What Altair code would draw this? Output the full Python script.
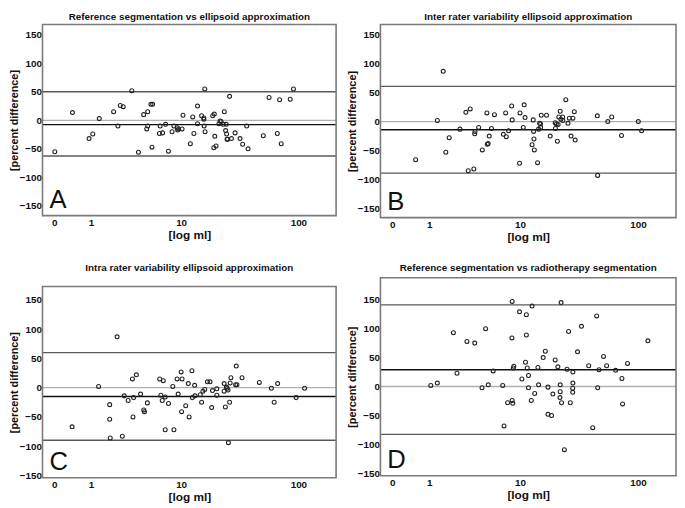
import altair as alt
import pandas as pd

FONT = "Liberation Sans"

titles = [
    "Reference segmentation vs ellipsoid approximation",
    "Inter rater variability ellipsoid  approximation",
    "Intra rater variability ellipsoid  approximation",
    "Reference segmentation vs radiotherapy  segmentation",
]
letters = ["A", "B", "C", "D"]
x_ticks = [0, 1, 10, 100]
y_ticks = [-150, -100, -50, 0, 50, 100, 150]

# Panel A
a_x = [0.01, 0.41, 0.93, 1.07, 1.34, 2.07, 2.33, 2.48, 2.68, 3.33, 3.91, 4.42, 4.74, 4.85, 4.85,
       5.22, 5.42, 5.34, 6.4, 6.3, 6.74, 7.2, 7.65, 8.27, 8.6, 9.2, 9.3, 10.4, 10.2, 12.1,
       12.7, 13.0, 14.0, 14.0, 15.2, 15.9, 15.9, 16.2, 16.0, 16.3, 19.0, 19.6, 19.4, 19.8, 20.3,
       21.5, 22.0, 22.4, 23.4, 23.9, 24.5, 24.8, 25.0, 25.2, 25.5, 26.5, 27.5, 29.5, 32.5, 34.2,
       37.0, 38.0, 51.0, 57.0, 66.8, 69.8, 72.0, 85.5, 91.0, 9.5]
a_y = [-55, 13.6, -32, -24, 3, 15, -10, 26, 24, 52, -56, 10, -15, -10, 15,
       28, 28, -47, -10, -23, -22, -7, -54, -20, -10, -13, -17, 9, -15, -41,
       6, -23, -6, 25, 8, 4, 2, 55, -10, -20, 8, 11, -48, -28, -45,
       -6, -1, -2, -7, 15, -18, -7, -24, -33, -33, 42, -32, -22, -32, -42,
       -10, -50, -27, 40, -23, 36, -41, 37, 55, -15]
a_lines = [50, 0, -7.5, -62.5]

# Panel B
b_x = [0.55, 1.33, 1.6, 1.73, 1.91, 2.56, 2.98, 3.16, 3.32, 3.62, 3.7, 3.72, 4.06, 4.42, 4.91,
       4.95, 5.05, 5.17, 5.44, 5.81, 7.05, 7.4, 7.5, 7.88, 8.4, 8.5, 9.9, 10.0, 10.7, 10.9,
       11.1, 12.8, 13.1, 13.2, 13.3, 13.4, 14.3, 14.6, 14.9, 15.2, 15.2, 15.4, 17.1, 18.4, 20.3,
       20.4, 20.8, 21.2, 21.5, 21.8, 22.4, 22.7, 23.5, 23.6, 25.0, 26.1, 26.8, 27.7, 28.7, 29.5,
       30.0, 46.0, 46.3, 56.2, 60.6, 73.0, 100.5, 107.0]
b_y = [-66, 2, 87, -53, -28, -13, 16, -85, 22, -82, -21, -17, -10, -49, 15,
       -39, -38, -25, -12, 12, -22, 15, -26, -16, 27, 3, -72, 15, -10, 29,
       7, -40, 3, -17, -30, -49, -71, -13, -3, -4, -10, 11, 11, -25, -2,
       -12, -4, -34, -5, 8, 18, 4, 8, 2, 38, -3, 6, -25, 6, 17,
       -32, 10, -93, 0, 8, -24, 0, -16]
b_lines = [61, 0, -14, -89]

# Panel C
c_x = [0.40, 1.31, 1.85, 1.85, 1.88, 2.28, 2.62, 2.75, 3.04, 3.38, 3.43, 3.48, 3.72, 4.11, 4.43,
       4.5, 4.81, 6.34, 6.5, 6.7, 6.85, 7.14, 7.14, 7.67, 8.4, 8.6, 9.2, 9.4, 10.0, 10.1,
       10.2, 11.0, 11.6, 11.8, 12.5, 12.6, 13.2, 13.3, 14.8, 15.2, 15.6, 16.2, 17.1, 18.0, 18.6,
       18.9, 20.6, 20.6, 23.8, 23.8, 24.4, 24.9, 25.3, 25.7, 25.9, 26.5, 26.8, 27.2, 29.8, 30.2,
       30.6, 33.8, 47.3, 59.6, 62.9, 67.2, 95.8, 112.5]
c_y = [-67, 2, -29, -54, -86, 87, -83, -14, -22, 15, -50, -17, 22, -11, -38,
       -41, -26, 15, -13, -22, 12, -16, -72, -27, 2, -72, 15, -11, 27, -41,
       15, -31, 7, -50, 29, -17, 4, -14, -12, -25, -6, -3, 10, 10, -34,
       -5, -2, -13, 7, -6, -33, 1, -1, -4, -94, -25, 8, 17, 5, 37,
       5, 17, 9, -1, -25, 7, -17, -1]
c_lines = [60, 0, -15, -90]

# Panel D
d_x = [1.06, 1.33, 2.15, 2.37, 3.06, 3.7, 4.39, 4.77, 5.06, 5.65, 6.95, 7.15, 7.72, 8.45, 8.5,
       8.6, 8.5, 8.7, 8.8, 9.9, 10.4, 11.2, 11.4, 11.4, 11.6, 11.9, 11.9, 12.6, 12.8, 13.5,
       14.4, 14.6, 16.0, 16.7, 17.6, 17.6, 18.9, 19.4, 20.3, 21.4, 22.4, 22.4, 22.3, 22.8, 23.0,
       24.3, 25.6, 26.4, 27.3, 28.6, 28.6, 28.7, 28.7, 31.4, 33.9, 39.0, 42.1, 45.4, 46.3, 47.5,
       51.8, 55.0, 65.3, 73.6, 74.5, 81.9, 120.5]
d_y = [2, 6, 93, 23, 78, 75, -2, 100, 3, 27, 2, -68, -28, 84, -24,
       -29, 147, 32, 35, 129, 13, 42, 124, 89, 32, 19, -2, -24, 139, -12,
       33, 3, 50, 61, -1, -48, -50, -13, 46, 34, 3, -9, -19, 145, -28,
       -109, 30, 95, -28, -10, -3, 25, 6, 60, 104, 36, -71, 122, -2, 29,
       52, 36, 28, 14, -30, 40, 79]
d_lines = [141, 0, 29, -82.5]

line_kinds = ["upper", "zero", "mean", "lower"]


def panel(title, letter, xs, ys, lines, ydom, height, width, toff, mean_color, mean_w):
    pts = pd.DataFrame({"x": xs, "y": ys})
    ln = pd.DataFrame({"v": lines, "kind": line_kinds})
    xsc = alt.Scale(type="symlog", domain=[-0.25, 205], nice=False, zero=False)
    ysc = alt.Scale(domain=ydom, nice=False, zero=False)
    yaxis = alt.Axis(values=y_ticks, title="[percent difference]")
    xaxis = alt.Axis(values=x_ticks, title="[log ml]", format="d")
    rules = alt.Chart(ln).mark_rule().encode(
        y=alt.Y("v:Q", scale=ysc, axis=yaxis),
        color=alt.Color("kind:N", legend=None,
                        scale=alt.Scale(domain=line_kinds,
                                        range=["#5a5a5a", "#b0b0b0", mean_color, "#5a5a5a"])),
        strokeWidth=alt.StrokeWidth("kind:N", legend=None,
                                    scale=alt.Scale(domain=line_kinds,
                                                    range=[1.4, 1.4, mean_w, 1.4])),
    )
    points = alt.Chart(pts).mark_point(shape="circle", filled=False, size=16,
                                       stroke="#222", strokeWidth=1.1, opacity=1).encode(
        x=alt.X("x:Q", scale=xsc, axis=xaxis),
        y=alt.Y("y:Q", scale=ysc, axis=yaxis),
    )
    one = pd.DataFrame({"t": [letter]})
    frame = alt.Chart(one).mark_rect(filled=False, stroke="#7a7a7a", strokeWidth=1.6).encode(
        x=alt.value(0), x2=alt.value(width), y=alt.value(0), y2=alt.value(height))
    lab = alt.Chart(one).mark_text(
        align="left", baseline="alphabetic", fontSize=26, font=FONT, color="#111"
    ).encode(x=alt.value(7), y=alt.value(height - 8), text="t:N")
    return alt.layer(rules, points, frame, lab).properties(
        width=width, height=height,
        title=alt.TitleParams(title, offset=toff, fontSize=10, fontWeight="bold",
                              font=FONT, color="#111", anchor="middle"),
    )


pa = panel(titles[0], letters[0], a_x, a_y, a_lines, [-167, 168], 194, 298, 2, "#111", 2.2)
pb = panel(titles[1], letters[1], b_x, b_y, b_lines, [-166, 168], 196, 300, 2, "#222", 2.0)
pc = panel(titles[2], letters[2], c_x, c_y, c_lines, [-154, 173], 194, 298, 13, "#333", 2.4)
pd_ = panel(titles[3], letters[3], d_x, d_y, d_lines, [-154, 188], 201, 300, 4, "#6a6a6a", 1.4)

chart = alt.hconcat(
    alt.vconcat(pa, pc, spacing=23),
    alt.vconcat(pb, pd_, spacing=21),
    spacing=9,
    padding=0,
).configure_view(stroke=None).configure_axis(
    grid=False, ticks=False, domain=False,
    labelFont=FONT, labelFontSize=10, labelFontWeight="bold", labelColor="#111",
    labelPadding=2, titleFont=FONT, titleFontWeight="bold", titleColor="#111",
    titlePadding=2,
).configure_axisY(titleFontSize=11, titlePadding=0, labelPadding=1).configure_axisX(titleFontSize=12)

chart.save("out.html", embed_options={"renderer": "svg", "actions": False})
